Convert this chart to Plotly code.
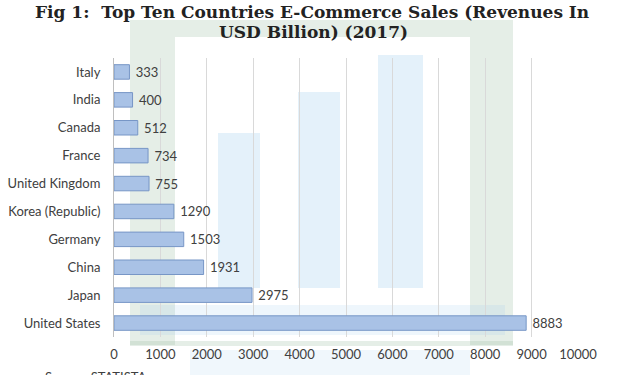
import plotly.graph_objects as go

countries = ["United States", "Japan", "China", "Germany", "Korea (Republic)",
             "United Kingdom", "France", "Canada", "India", "Italy"]
sales = [8883, 2975, 1931, 1503, 1290, 755, 734, 512, 400, 333]
x_ticks = [0, 1000, 2000, 3000, 4000, 5000, 6000, 7000, 8000, 9000, 10000]

title_line1 = "Fig 1:  Top Ten Countries E-Commerce Sales (Revenues In"
title_line2 = "USD Billion) (2017)"

fig = go.Figure()
fig.add_trace(go.Bar(
    y=countries, x=sales, orientation="h",
    marker=dict(color="#a9c2e6", line=dict(color="#7796c6", width=1)),
    texttemplate=" %{x}", textposition="outside",
    textfont=dict(family="Lato", size=13, color="#404040"),
    constraintext="none",
    cliponaxis=False,
))

L, R, T, Bt = 114, 578, 58, 337
pxx = lambda v: (v - L) / (R - L)
pxy = lambda v: (Bt - v) / (Bt - T)

shapes = []
G = "rgba(160,195,170,0.28)"
B = "rgba(150,200,235,0.26)"
def rect(x0, y0, x1, y1, c):
    shapes.append(dict(type="rect", xref="paper", yref="paper",
                       x0=pxx(x0), y0=pxy(y0), x1=pxx(x1), y1=pxy(y1),
                       fillcolor=c, line=dict(width=0), layer="below"))
rect(130, 345, 175, 20, G)
rect(470, 345, 513, 20, G)
rect(175, 37, 470, 20, G)
rect(218, 288, 260, 133, B)
rect(298, 288, 340, 92, B)
rect(378, 288, 423, 55, B)
rect(130, 346, 513, 341, G)
rect(140, 305, 505, 335, "rgba(150,200,235,0.16)")
rect(190, 350, 470, 375, "rgba(150,200,235,0.14)")

fig.update_layout(
    width=625, height=375,
    margin=dict(l=L, r=625 - R, t=T, b=375 - Bt, autoexpand=False),
    paper_bgcolor="white", plot_bgcolor="rgba(0,0,0,0)",
    showlegend=False,
    bargap=0.48,
    shapes=shapes,
    xaxis=dict(range=[0, 10000], tickvals=x_ticks, ticktext=[str(t) for t in x_ticks],
               showgrid=True, gridcolor="#d9d9d9", gridwidth=1, zeroline=False,
               showline=False, ticks="", automargin=False, ticklabelstandoff=8,
               tickfont=dict(family="Lato", size=13, color="#404040")),
    yaxis=dict(categoryorder="array", categoryarray=countries,
               showline=True, linecolor="#bfbfbf", linewidth=1, ticks="",
               showgrid=False, ticklabelstandoff=10, automargin=False,
               tickfont=dict(family="Lato", size=13, color="#404040")),
)
tf = dict(family="DejaVu Serif", size=17, color="#222222", weight="bold")
fig.add_annotation(text=title_line1, xref="paper", yref="paper", x=pxx(312), y=pxy(12),
                   xanchor="center", yanchor="middle", showarrow=False, font=tf)
fig.add_annotation(text=title_line2, xref="paper", yref="paper", x=pxx(313), y=pxy(32),
                   xanchor="center", yanchor="middle", showarrow=False, font=tf)
fig.add_annotation(text="Source: STATISTA", xref="paper", yref="paper", x=pxx(43), y=pxy(367),
                   xanchor="left", yanchor="top", showarrow=False,
                   font=dict(family="Lato", size=13, color="#404040"))

fig.write_html("out.html", config={"displayModeBar": False},
               post_script="document.body.style.margin='0';document.body.style.overflow='hidden';")
